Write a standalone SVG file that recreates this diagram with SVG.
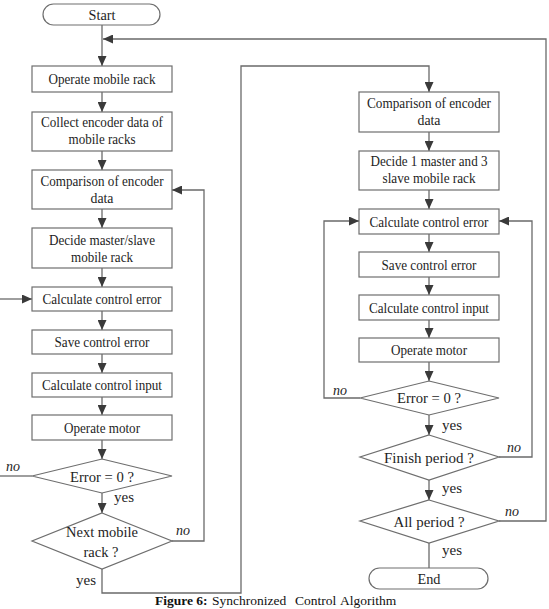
<svg xmlns="http://www.w3.org/2000/svg" width="549" height="609" viewBox="0 0 549 609">
<style>
.b{fill:#fff;stroke:#6e6e6e;stroke-width:1.2}
.t{font-size:15px;fill:#1e1e1e;text-anchor:middle}
.l{font-size:15px;fill:#1e1e1e}
.n{font-size:14px;font-style:italic;fill:#1e1e1e}
.c{fill:none;stroke:#6a6a6a;stroke-width:1.3}
.cap{font-size:13.5px;fill:#111}
</style>
<defs>
<marker id="a" markerUnits="userSpaceOnUse" markerWidth="10" markerHeight="9" refX="10" refY="4.5" orient="auto">
<path d="M0,0 L10,4.5 L0,9 z" fill="#3a3a3a"/>
</marker>
</defs>
<rect width="549" height="609" fill="#fff"/>
<g id="connectors" class="c">
<line x1="102" y1="25" x2="102" y2="66" marker-end="url(#a)"/>
<line x1="102" y1="92" x2="102" y2="112" marker-end="url(#a)"/>
<line x1="102" y1="151" x2="102" y2="170" marker-end="url(#a)"/>
<line x1="102" y1="209" x2="102" y2="228" marker-end="url(#a)"/>
<line x1="102" y1="268" x2="102" y2="287" marker-end="url(#a)"/>
<line x1="102" y1="311" x2="102" y2="330" marker-end="url(#a)"/>
<line x1="102" y1="354" x2="102" y2="373" marker-end="url(#a)"/>
<line x1="102" y1="397" x2="102" y2="415" marker-end="url(#a)"/>
<line x1="102" y1="440" x2="102" y2="459" marker-end="url(#a)"/>
<line x1="102" y1="493" x2="102" y2="513" marker-end="url(#a)"/>
<line x1="0" y1="299" x2="32" y2="299" marker-end="url(#a)"/>
<line x1="32" y1="476" x2="0" y2="476"/>
<polyline points="172,541 204,541 204,190 172,190" marker-end="url(#a)"/>
<polyline points="102,569 102,593 241,593 241,66 429,66 429,92" marker-end="url(#a)"/>
<line x1="429" y1="132" x2="429" y2="151" marker-end="url(#a)"/>
<line x1="429" y1="190" x2="429" y2="209" marker-end="url(#a)"/>
<line x1="429" y1="234" x2="429" y2="252" marker-end="url(#a)"/>
<line x1="429" y1="277" x2="429" y2="295" marker-end="url(#a)"/>
<line x1="429" y1="320" x2="429" y2="338" marker-end="url(#a)"/>
<line x1="429" y1="362" x2="429" y2="381" marker-end="url(#a)"/>
<line x1="429" y1="415" x2="429" y2="435" marker-end="url(#a)"/>
<line x1="429" y1="480" x2="429" y2="500" marker-end="url(#a)"/>
<line x1="429" y1="543" x2="429" y2="568"/>
<polyline points="360,398 324,398 324,221 359,221" marker-end="url(#a)"/>
<polyline points="499,457 532,457 532,221 499,221" marker-end="url(#a)"/>
<polyline points="499,521 546,521 546,39 103,39" marker-end="url(#a)"/>
</g>
<g font-family="'Liberation Serif', 'Times New Roman', 'DejaVu Serif', serif">
<g id="labels">
<text class="n" x="6" y="471">no</text>
<text class="l" x="114" y="502" textLength="20" lengthAdjust="spacingAndGlyphs">yes</text>
<text class="n" x="176" y="535">no</text>
<text class="l" x="76" y="585" textLength="20" lengthAdjust="spacingAndGlyphs">yes</text>
<text class="n" x="333" y="395">no</text>
<text class="l" x="442" y="430" textLength="20" lengthAdjust="spacingAndGlyphs">yes</text>
<text class="n" x="507" y="452">no</text>
<text class="l" x="442" y="493" textLength="20" lengthAdjust="spacingAndGlyphs">yes</text>
<text class="n" x="505" y="516">no</text>
<text class="l" x="442" y="555" textLength="20" lengthAdjust="spacingAndGlyphs">yes</text>
</g>
<g id="start"><rect class="b" x="43" y="4" width="117" height="21" rx="10.5"/><text class="t" x="102" y="20" textLength="27" lengthAdjust="spacingAndGlyphs">Start</text></g>
<g id="operate-rack"><rect class="b" x="32" y="66" width="140" height="26"/><text class="t" x="102" y="84" textLength="107" lengthAdjust="spacingAndGlyphs">Operate mobile rack</text></g>
<g id="collect"><rect class="b" x="32" y="112" width="140" height="39"/><text class="t" x="102" y="127" textLength="122" lengthAdjust="spacingAndGlyphs">Collect encoder data of</text><text class="t" x="102" y="144" textLength="67" lengthAdjust="spacingAndGlyphs">mobile racks</text></g>
<g id="compare-l"><rect class="b" x="32" y="170" width="140" height="39"/><text class="t" x="102" y="186" textLength="123" lengthAdjust="spacingAndGlyphs">Comparison of encoder</text><text class="t" x="102" y="203" textLength="23" lengthAdjust="spacingAndGlyphs">data</text></g>
<g id="decide-l"><rect class="b" x="32" y="228" width="140" height="40"/><text class="t" x="102" y="245" textLength="106" lengthAdjust="spacingAndGlyphs">Decide master/slave</text><text class="t" x="102" y="262" textLength="62" lengthAdjust="spacingAndGlyphs">mobile rack</text></g>
<g id="calc-err-l"><rect class="b" x="32" y="287" width="140" height="24"/><text class="t" x="102" y="304" textLength="119" lengthAdjust="spacingAndGlyphs">Calculate control error</text></g>
<g id="save-l"><rect class="b" x="32" y="330" width="140" height="24"/><text class="t" x="102" y="347" textLength="95" lengthAdjust="spacingAndGlyphs">Save control error</text></g>
<g id="calc-in-l"><rect class="b" x="32" y="373" width="140" height="24"/><text class="t" x="102" y="390" textLength="120" lengthAdjust="spacingAndGlyphs">Calculate control input</text></g>
<g id="motor-l"><rect class="b" x="32" y="415" width="140" height="25"/><text class="t" x="102" y="433" textLength="76" lengthAdjust="spacingAndGlyphs">Operate motor</text></g>
<g id="err-l"><polygon class="b" points="102,459 172,476 102,493 32,476"/><text class="t" x="102" y="482" textLength="64" lengthAdjust="spacingAndGlyphs">Error = 0 ?</text></g>
<g id="next"><polygon class="b" points="102,513 172,541 102,569 32,541"/><text class="t" x="102" y="537" textLength="72" lengthAdjust="spacingAndGlyphs">Next mobile</text><text class="t" x="101" y="557" textLength="35" lengthAdjust="spacingAndGlyphs">rack ?</text></g>
<g id="compare-r"><rect class="b" x="359" y="92" width="140" height="40"/><text class="t" x="429" y="108" textLength="124" lengthAdjust="spacingAndGlyphs">Comparison of encoder</text><text class="t" x="429" y="125" textLength="23" lengthAdjust="spacingAndGlyphs">data</text></g>
<g id="decide-r"><rect class="b" x="359" y="151" width="140" height="39"/><text class="t" x="429" y="166" textLength="117" lengthAdjust="spacingAndGlyphs">Decide 1 master and 3</text><text class="t" x="429" y="183" textLength="93" lengthAdjust="spacingAndGlyphs">slave mobile rack</text></g>
<g id="calc-err-r"><rect class="b" x="359" y="209" width="140" height="25"/><text class="t" x="429" y="227" textLength="119" lengthAdjust="spacingAndGlyphs">Calculate control error</text></g>
<g id="save-r"><rect class="b" x="359" y="252" width="140" height="25"/><text class="t" x="429" y="270" textLength="95" lengthAdjust="spacingAndGlyphs">Save control error</text></g>
<g id="calc-in-r"><rect class="b" x="359" y="295" width="140" height="25"/><text class="t" x="429" y="313" textLength="120" lengthAdjust="spacingAndGlyphs">Calculate control input</text></g>
<g id="motor-r"><rect class="b" x="359" y="338" width="140" height="24"/><text class="t" x="429" y="355" textLength="76" lengthAdjust="spacingAndGlyphs">Operate motor</text></g>
<g id="err-r"><polygon class="b" points="429,381 499,398 429,415 360,398"/><text class="t" x="429" y="403" textLength="64" lengthAdjust="spacingAndGlyphs">Error = 0 ?</text></g>
<g id="finish"><polygon class="b" points="429,435 499,457 429,480 360,457"/><text class="t" x="429" y="463" textLength="90" lengthAdjust="spacingAndGlyphs">Finish period ?</text></g>
<g id="all"><polygon class="b" points="429,500 499,521 429,543 360,521"/><text class="t" x="429" y="527" textLength="71" lengthAdjust="spacingAndGlyphs">All period ?</text></g>
<g id="end"><rect class="b" x="369" y="568" width="119" height="21" rx="10.5"/><text class="t" x="429" y="584" textLength="23" lengthAdjust="spacingAndGlyphs">End</text></g>
<g id="caption">
<text class="cap" y="605"><tspan x="155" font-weight="bold">Figure 6:</tspan><tspan x="212">Synchronized</tspan><tspan x="295">Control</tspan><tspan x="340">Algorithm</tspan></text>
</g>
</g>
</svg>
